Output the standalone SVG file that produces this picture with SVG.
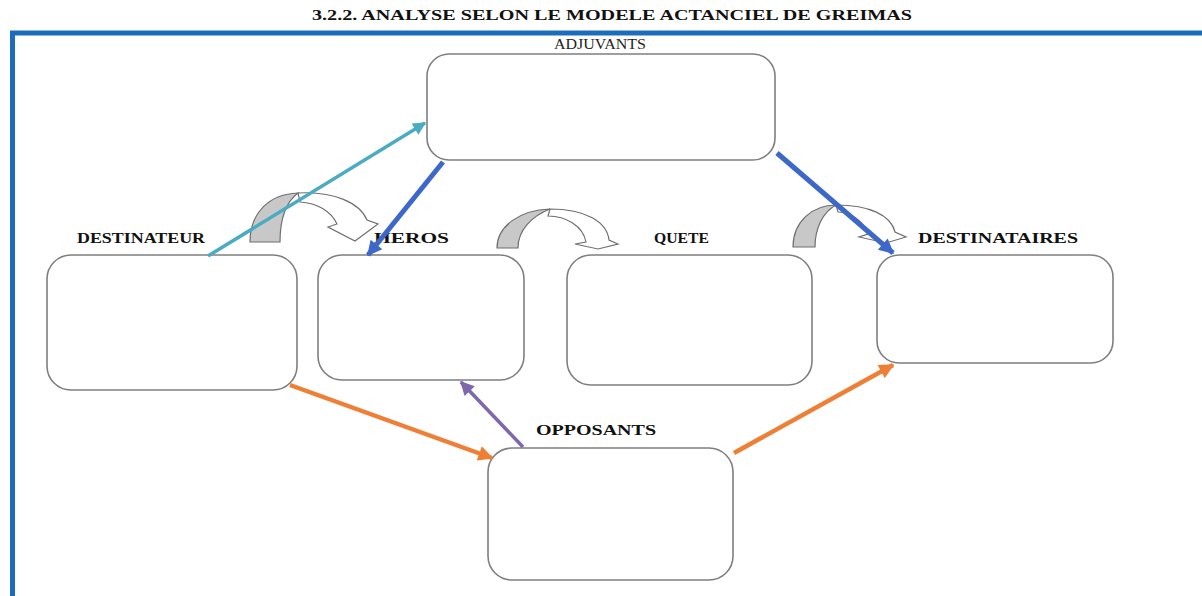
<svg xmlns="http://www.w3.org/2000/svg" width="1202" height="596" viewBox="0 0 1202 596">
<defs>
<style>
.box{fill:#fff;stroke:#7f7f7f;stroke-width:1.6}
.lbl{font-family:"Liberation Serif","Times New Roman",serif;font-weight:bold;font-size:15px;fill:#111}
.lbln{font-family:"Liberation Serif","Times New Roman",serif;font-size:15px;fill:#222}
.cgray{fill:#c8c8c8;stroke:#6f6f6f;stroke-width:1.2}
.cwhite{fill:#fff;stroke:#6f6f6f;stroke-width:1.2}
.con{fill:none;stroke-linecap:butt}
</style>
<marker id="mTeal" viewBox="0 0 10 10" refX="9" refY="5" markerWidth="15" markerHeight="13" markerUnits="userSpaceOnUse" orient="auto"><path d="M0,0 L10,5 L0,10 Z" fill="#4babc3"/></marker>
<marker id="mBlue" viewBox="0 0 10 10" refX="9" refY="5" markerWidth="17" markerHeight="15" markerUnits="userSpaceOnUse" orient="auto"><path d="M0,0 L10,5 L0,10 Z" fill="#3d68c9"/></marker>
<marker id="mOrange" viewBox="0 0 10 10" refX="9" refY="5" markerWidth="17" markerHeight="15" markerUnits="userSpaceOnUse" orient="auto"><path d="M0,0 L10,5 L0,10 Z" fill="#ee7f35"/></marker>
<marker id="mPurple" viewBox="0 0 10 10" refX="9" refY="5" markerWidth="16" markerHeight="14" markerUnits="userSpaceOnUse" orient="auto"><path d="M0,0 L10,5 L0,10 Z" fill="#7e67ab"/></marker>
</defs>
<rect x="0" y="0" width="1202" height="596" fill="#fff"/>
<text x="612" y="20" text-anchor="middle" class="lbl" font-size="14" textLength="600" lengthAdjust="spacingAndGlyphs">3.2.2. ANALYSE SELON LE MODELE ACTANCIEL DE GREIMAS</text>
<g id="frame"><path d="M12.5,596 L12.5,33 L1202,33" fill="none" stroke="#1b6cbb" stroke-width="5"/></g>

<g id="adjuvants">
<rect class="box" x="427" y="54" width="348" height="106" rx="22"/>
<text class="lbln" x="600" y="49" text-anchor="middle" textLength="92" lengthAdjust="spacingAndGlyphs">ADJUVANTS</text>
</g>
<g id="destinateur">
<rect class="box" x="47" y="255" width="250" height="135" rx="24"/>
<text class="lbl" x="77" y="243" textLength="128" lengthAdjust="spacingAndGlyphs">DESTINATEUR</text>
</g>
<g id="heros">
<rect class="box" x="318" y="255" width="206" height="125" rx="24"/>
<text class="lbl" x="374" y="243" textLength="75" lengthAdjust="spacingAndGlyphs">HEROS</text>
</g>
<g id="quete">
<rect class="box" x="567" y="255" width="245" height="130" rx="24"/>
<text class="lbl" x="654" y="243" textLength="55" lengthAdjust="spacingAndGlyphs">QUETE</text>
</g>
<g id="destinataires">
<rect class="box" x="877" y="255" width="236" height="108" rx="22"/>
<text class="lbl" x="918" y="243" textLength="160" lengthAdjust="spacingAndGlyphs">DESTINATAIRES</text>
</g>
<g id="opposants">
<rect class="box" x="488" y="448" width="245" height="132" rx="24"/>
<text class="lbl" x="536" y="435" textLength="120" lengthAdjust="spacingAndGlyphs">OPPOSANTS</text>
</g>

<g id="curved-arrows">
<path class="cgray" d="M250,242 C250,212 270,194 298,193 C286,202 280,220 280,242 Z"/>
<path class="cwhite" d="M298,193 C334,191 360,203 367,220 L378,224 L355,241 L328,227 L337,224 C331,211 317,203 300,202 Z"/>
<path class="cgray" d="M497,248 C497,226 520,210 550,209 C532,216 518,230 518,248 Z"/>
<path class="cwhite" d="M550,209 C586,209 607,222 609,240 L618,244 L598,249 L575,244 L586,242 C583,226 566,216 548,216 Z"/>
<path class="cgray" d="M793,247 C793,222 812,205 836,205 C823,212 815,228 815,247 Z"/>
<path class="cwhite" d="M836,205 C869,205 891,215 895,232 L906,237 L886,243 L859,237 L868,234 C864,222 851,212 838,212 Z"/>
</g>

<g id="connectors">
<line class="con" x1="208" y1="256" x2="425" y2="123" stroke="#4babc3" stroke-width="3.5" marker-end="url(#mTeal)"/>
<line class="con" x1="443" y1="162" x2="368" y2="255" stroke="#3d68c9" stroke-width="5" marker-end="url(#mBlue)"/>
<line class="con" x1="777" y1="153" x2="893" y2="253" stroke="#3d68c9" stroke-width="5" marker-end="url(#mBlue)"/>
<line class="con" x1="290" y1="385" x2="492" y2="458" stroke="#ee7f35" stroke-width="4.5" marker-end="url(#mOrange)"/>
<line class="con" x1="734" y1="453" x2="893" y2="365" stroke="#ee7f35" stroke-width="4.5" marker-end="url(#mOrange)"/>
<line class="con" x1="523" y1="447" x2="461" y2="382" stroke="#7e67ab" stroke-width="3.5" marker-end="url(#mPurple)"/>
</g>
</svg>
